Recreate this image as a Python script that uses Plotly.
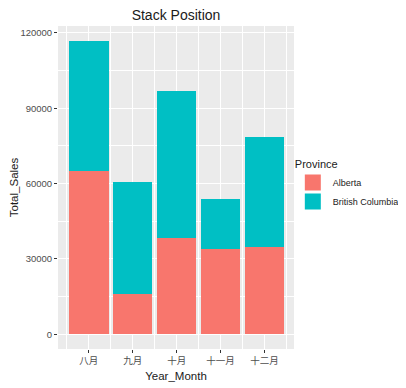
import plotly.graph_objects as go

months = ["八月", "九月", "十月", "十一月", "十二月"]
alberta = [64900, 15900, 38400, 34000, 34700]
british_columbia = [52000, 44900, 58300, 19700, 43700]
provinces = ["Alberta", "British Columbia"]
colors = ["#F8766D", "#00BFC4"]
y_ticks = [0, 30000, 60000, 90000, 120000]

FONT = "Liberation Sans, Arial, Noto Sans CJK SC, sans-serif"
xpos = list(range(len(months)))

# the page body has an 8px default margin, so the figure is sized to fit inside it
W, H = 398, 380
ML, MR, MT, MB = 50, 112, 18, 39

fig = go.Figure()
for name, vals, col in zip(provinces, [alberta, british_columbia], colors):
    fig.add_trace(go.Bar(
        x=xpos, y=vals, name=name, width=0.9, showlegend=False,
        marker=dict(color=col, line=dict(width=0)),
    ))
# legend keys (square swatches like ggplot's legend)
for name, col in zip(provinces, colors):
    fig.add_trace(go.Scatter(
        x=[None], y=[None], mode="markers", name=name, legendgroup=name,
        marker=dict(symbol="square", size=16, color=col, line=dict(width=0)),
    ))

totals = [a + b for a, b in zip(alberta, british_columbia)]
ymax = max(totals)
plot_w = W - ML - MR

fig.update_layout(
    barmode="stack",
    width=W, height=H,
    margin=dict(l=ML, r=MR, t=MT, b=MB, autoexpand=False),
    paper_bgcolor="white",
    plot_bgcolor="#EBEBEB",
    font=dict(family=FONT, color="#4D4D4D", size=10),
    title=dict(text="Stack Position", x=(ML + plot_w / 2) / W, xanchor="center",
               y=1 - 7 / H, yanchor="middle",
               font=dict(size=14, color="#1a1a1a")),
    showlegend=True,
    legend=dict(
        title=dict(text="Province", font=dict(size=11, color="#1a1a1a")),
        x=0.995, xanchor="left", y=0.605, yanchor="top",
        traceorder="normal", tracegroupgap=9, itemsizing="trace",
        bgcolor="rgba(0,0,0,0)", font=dict(size=9, color="#1a1a1a"),
    ),
    bargap=0.1,
)

fig.update_xaxes(
    range=[-0.7, len(months) - 1 + 0.67],
    tickvals=xpos, ticktext=months,
    showgrid=True, gridcolor="white", gridwidth=1.1,
    minor=dict(tick0=0.5, dtick=1, showgrid=True, gridcolor="white", gridwidth=0.6),
    ticks="outside", ticklen=3, tickcolor="#333333", tickwidth=1,
    tickfont=dict(size=9.5, color="#4D4D4D"),
    zeroline=False, showline=False,
    title=dict(text="Year_Month", font=dict(size=11.5, color="#1a1a1a"), standoff=6),
)
fig.update_yaxes(
    range=[-0.05 * ymax, 1.05 * ymax],
    tickvals=y_ticks, tickformat="d",
    showgrid=True, gridcolor="white", gridwidth=1.1,
    minor=dict(tick0=15000, dtick=30000, showgrid=True, gridcolor="white", gridwidth=0.6),
    ticks="outside", ticklen=3, tickcolor="#333333", tickwidth=1,
    tickfont=dict(size=9.5, color="#4D4D4D"),
    zeroline=False, showline=False,
    title=dict(text="Total_Sales", font=dict(size=11.5, color="#1a1a1a"), standoff=0),
)

fig.write_html("out.html")
